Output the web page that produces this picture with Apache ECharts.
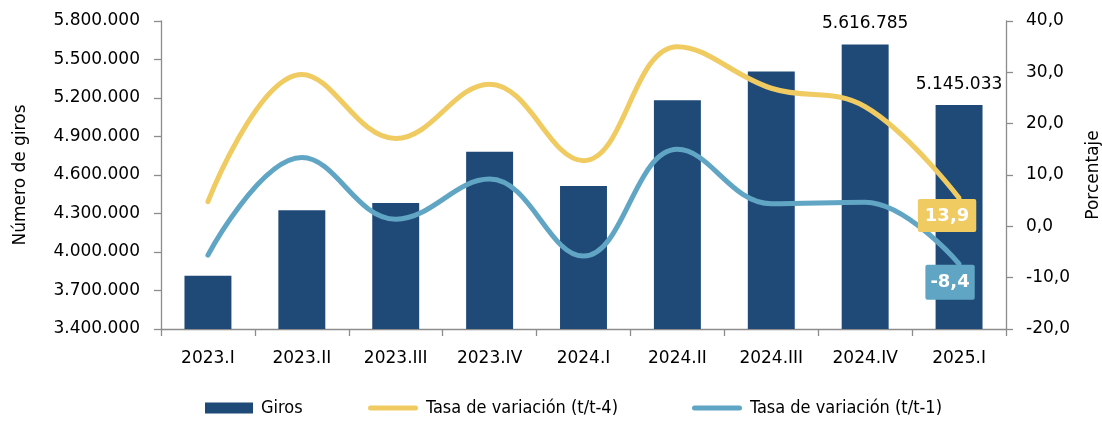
<!DOCTYPE html>
<html>
<head>
<meta charset="utf-8">
<script src="https://cdn.jsdelivr.net/npm/echarts@6/dist/echarts.min.js"></script>
<style>
  html, body { margin: 0; padding: 0; background: #fff; }
  #chart { width: 1102px; height: 421px; }
</style>
</head>
<body>
<div id="chart"></div>
<script>
// datos
const trimestres = ['2023.I', '2023.II', '2023.III', '2023.IV', '2024.I', '2024.II', '2024.III', '2024.IV', '2025.I'];
const giros = [3814000, 4325000, 4382000, 4781000, 4514000, 5183000, 5406000, 5616785, 5145033];
const tasaT4 = [4.8, 29.6, 17.1, 27.7, 12.8, 35.0, 26.9, 23.3, 5.5];
const tasaT1 = [-5.6, 13.4, 1.4, 9.2, -5.8, 15.0, 4.4, 4.7, -7.3];
const etiquetaFinalT4 = 13.9;
const etiquetaFinalT1 = -8.4;
const girosConEtiqueta = [7, 8];

var fuente = 'DejaVu Sans';
var fuenteLeyenda = 'DejaVu Sans Condensed';
var gris = '#8c8c8c';
var azulOscuro = '#1f4a78';
var amarillo = '#f0cb62';
var celeste = '#60a6c4';

// icono de linea gruesa con extremos redondeados (los M extra fijan la caja 50x11)
var iconoLinea = 'path://M0,0 M0,11 M2.5,3 L47.5,3 A2.5,2.5 0 0 1 47.5,8 L2.5,8 A2.5,2.5 0 0 1 2.5,3 Z';

function miles(v) {
  return String(Math.round(v)).replace(/\B(?=(\d{3})+(?!\d))/g, '.');
}
function coma(v) {
  return v.toFixed(1).replace('.', ',');
}

var datosGiros = giros.map(function (v, i) {
  if (girosConEtiqueta.indexOf(i) >= 0) {
    return { value: v, label: { show: true } };
  }
  return v;
});

function leyenda(left, nombre, icono, ancho, color) {
  return {
    left: left,
    top: 399,
    itemWidth: ancho,
    itemHeight: 11,
    padding: 0,
    textStyle: { fontFamily: fuenteLeyenda, fontSize: 18, color: '#000', padding: [0, 0, 0, 3] },
    data: [{ name: nombre, icon: icono, itemStyle: { color: color } }]
  };
}

var myChart = echarts.init(document.getElementById('chart'));

var option = {
  animation: false,
  textStyle: { fontFamily: fuente },
  grid: { left: 161, right: 96, top: 21, bottom: 92, containLabel: false, outerBoundsMode: 'none' },
  legend: [
    leyenda(205, 'Giros', 'rect', 48, azulOscuro),
    leyenda(368, 'Tasa de variación (t/t-4)', iconoLinea, 50, amarillo),
    leyenda(692, 'Tasa de variación (t/t-1)', iconoLinea, 50, celeste)
  ],
  xAxis: {
    type: 'category',
    data: trimestres,
    axisLine: { onZero: false, lineStyle: { color: gris, width: 1.3 } },
    axisTick: { show: true, length: 7, lineStyle: { color: gris, width: 1.3 } },
    axisLabel: { color: '#000', fontSize: 17, margin: 21 }
  },
  yAxis: [
    {
      type: 'value',
      min: 3400000,
      max: 5800000,
      interval: 300000,
      name: 'Número de giros',
      nameLocation: 'middle',
      nameGap: 132,
      nameTextStyle: { fontSize: 17, color: '#000' },
      splitLine: { show: false },
      axisLine: { show: true, lineStyle: { color: gris, width: 1.3 } },
      axisTick: { show: true, length: 7, lineStyle: { color: gris, width: 1.3 } },
      axisLabel: { color: '#000', fontSize: 17, margin: 21, formatter: miles }
    },
    {
      type: 'value',
      min: -20,
      max: 40,
      interval: 10,
      position: 'right',
      name: 'Porcentaje',
      nameLocation: 'middle',
      nameGap: 79,
      nameTextStyle: { fontSize: 17, color: '#000' },
      splitLine: { show: false },
      axisLine: { show: true, lineStyle: { color: gris, width: 1.3 } },
      axisTick: { show: true, length: 7, lineStyle: { color: gris, width: 1.3 } },
      axisLabel: { color: '#000', fontSize: 17, margin: 20, formatter: coma }
    }
  ],
  series: [
    {
      name: 'Giros',
      type: 'bar',
      yAxisIndex: 0,
      barWidth: '50%',
      data: datosGiros,
      itemStyle: { color: azulOscuro },
      label: {
        show: false,
        position: 'top',
        distance: 12,
        color: '#000',
        fontSize: 17,
        formatter: function (p) { return miles(p.value); }
      }
    },
    {
      name: 'Tasa de variación (t/t-4)',
      type: 'line',
      yAxisIndex: 1,
      smooth: 0.4,
      symbol: 'none',
      data: tasaT4,
      itemStyle: { color: amarillo },
      lineStyle: { color: amarillo, width: 5, cap: 'round' },
      endLabel: {
        show: true,
        formatter: function () { return coma(etiquetaFinalT4); },
        align: 'center',
        verticalAlign: 'top',
        offset: [-20, 1],
        backgroundColor: amarillo,
        color: '#fff',
        fontWeight: 'bold',
        fontSize: 18,
        padding: [8, 7, 7, 7],
        borderRadius: 2
      }
    },
    {
      name: 'Tasa de variación (t/t-1)',
      type: 'line',
      yAxisIndex: 1,
      smooth: 0.4,
      symbol: 'none',
      data: tasaT1,
      itemStyle: { color: celeste },
      lineStyle: { color: celeste, width: 5, cap: 'round' },
      endLabel: {
        show: true,
        formatter: function () { return coma(etiquetaFinalT1); },
        align: 'center',
        verticalAlign: 'top',
        offset: [-17, 1],
        backgroundColor: celeste,
        color: '#fff',
        fontWeight: 'bold',
        fontSize: 18,
        padding: [9, 5, 8, 5],
        borderRadius: 2
      }
    }
  ]
};

myChart.setOption(option);
</script>
</body>
</html>
